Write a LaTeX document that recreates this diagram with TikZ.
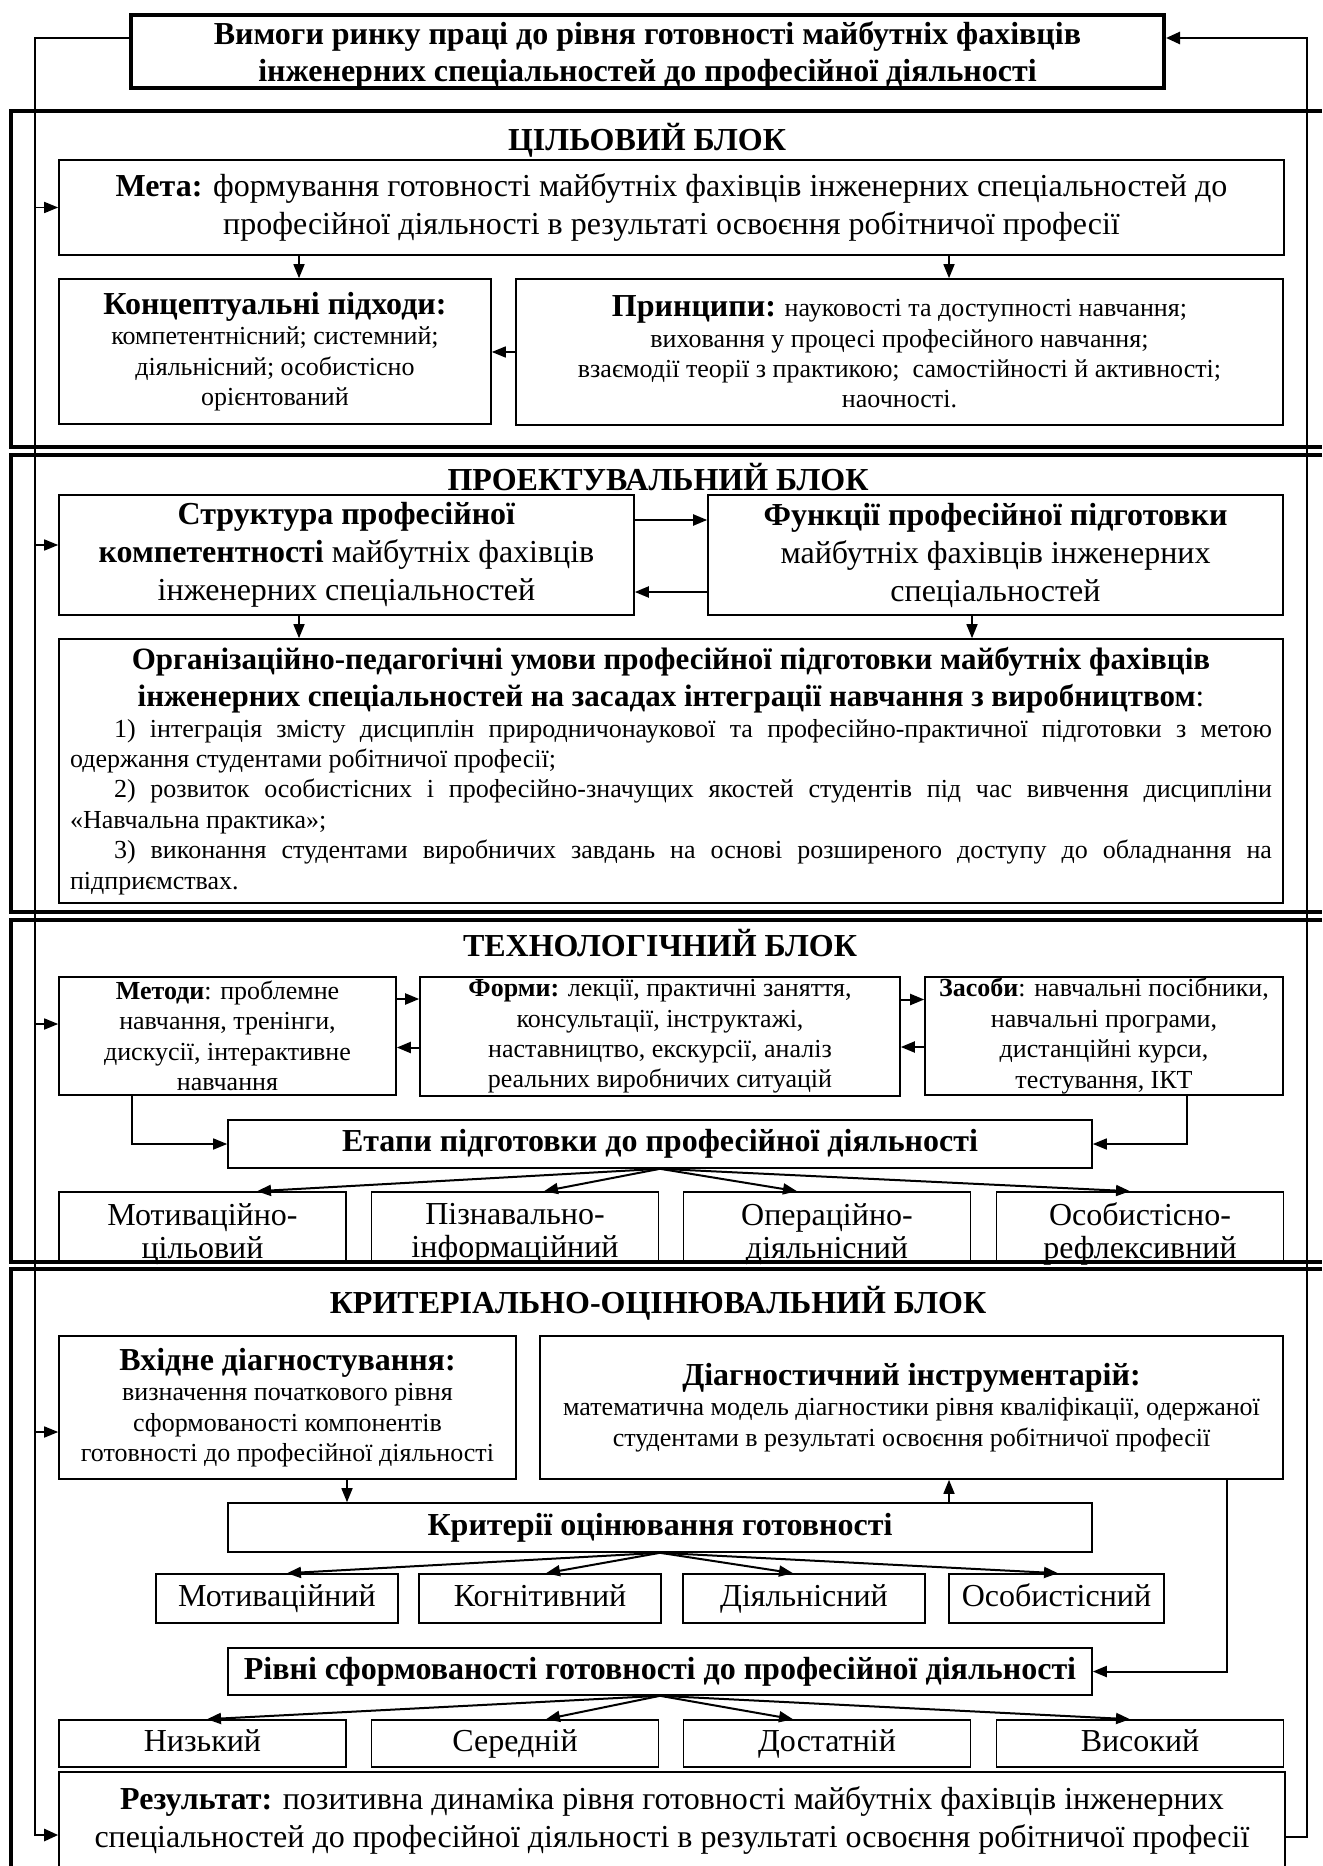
\documentclass[tikz,border=0pt]{standalone}
\usepackage{fontspec}
\setmainfont{Liberation Serif}
\usetikzlibrary{arrows.meta}
\newcommand\fmain{\fontsize{16}{19}\selectfont}
\newcommand\fsmall{\fontsize{13}{15.2}\selectfont}
\newcommand\fbig{\fontsize{16}{16.5}\selectfont}
\newcommand\ftitle{\fontsize{16}{19}\selectfont\bfseries}

\begin{document}
\begin{tikzpicture}[x=0.5pt, y=-0.5pt,
    box/.style={draw, line width=0.8pt, inner sep=2pt, align=center, font=\fmain},
    cell/.style={box, font=\fbig, text height=11.5pt, text depth=3.5pt},
    blockline/.style={line width=1.8pt},
    blocktitle/.style={font=\ftitle},
    fb/.style={line width=1.3pt, -{Triangle[length=7pt,width=6pt]}},
    arr/.style={line width=0.8pt, -{Triangle[length=7pt,width=5.5pt]}}]
    \useasboundingbox (0,0) rectangle (1322,1866) ;
    \draw[blockline] (1322,111) -| (11,447) -- (1322,447) ;
    \draw[blockline] (1322,455) -| (11,912) -- (1322,912) ;
    \draw[blockline] (1322,920) -| (11,1262) -- (1322,1262) ;
    \draw[blockline] (1322,1269) -| (11,1880) ;

    \node [box, line width=2pt, minimum width=516.5pt, minimum height=36.5pt] at (647.5,51.5) (T) {} ;
    \node [font=\fontsize{16}{18.5}\selectfont\bfseries, align=center] at ([yshift=-1.75pt]T.center) (Tt) {Вимоги ринку праці до рівня готовності майбутніх фахівців\\ інженерних спеціальностей до професійної діяльності} ;

    \node [blocktitle] at (647,140) (H1) {ЦІЛЬОВИЙ БЛОК} ;
    \node [box, minimum width=612.5pt, minimum height=47.5pt] at (671.5,207.5) (M) {\textbf{Мета:} формування готовності майбутніх фахівців інженерних спеціальностей до\\ професійної діяльності в результаті освоєння робітничої професії} ;
    \node [box, font=\fsmall, minimum width=216pt, minimum height=72.5pt] at (275,351.5) (P1) {{\fmain\textbf{Концептуальні підходи:}}\\ компетентнісний; системний;\\ діяльнісний; особистісно\\ орієнтований} ;
    \node [box, font=\fsmall, minimum width=383.5pt, minimum height=73pt] at (899.5,352) (P2) {{\fmain\textbf{Принципи:}} науковості та доступності навчання;\\ виховання у процесі професійного навчання;\\ взаємодії теорії з практикою;\ \ самостійності й активності;\\ наочності.} ;

    \node [blocktitle] at (658,477) (H2) {ПРОЕКТУВАЛЬНИЙ БЛОК} ;
    \node [box, minimum width=287.5pt, minimum height=60pt] at (346.5,555) (S) {\textbf{Структура професійної}\\ \textbf{компетентності} майбутніх фахівців\\ інженерних спеціальностей} ;
    \node [box, minimum width=287.5pt, minimum height=60pt] at (995.5,555) (F) {\textbf{Функції професійної підготовки}\\ майбутніх фахівців інженерних\\ спеціальностей} ;
    \node [box, minimum width=612pt, minimum height=132pt, text width=601pt, align=justify] at (671,771) (U) {{\centering\fontsize{15.5}{18.5}\selectfont\bfseries Організаційно-педагогічні умови професійної підготовки майбутніх фахівців\\ інженерних спеціальностей на засадах інтеграції навчання з виробництвом\mdseries:\par}
      \fsmall\parindent=22pt
      1) інтеграція змісту дисциплін природничонаукової та професійно-практичної підготовки з~метою\linebreak одержання студентами робітничої професії;\par
      2) розвиток особистісних і професійно-значущих якостей студентів під час вивчення дисципліни\linebreak «Навчальна практика»;\par
      3) виконання студентами виробничих завдань на основі розширеного доступу до обладнання на\linebreak підприємствах.\par} ;

    \node [blocktitle] at (660,943) (H3) {ТЕХНОЛОГІЧНИЙ БЛОК} ;
    \node [box, font=\fsmall, inner ysep=0pt, minimum width=168.5pt, minimum height=59pt] at (227.5,1036) (Me) {\textbf{Методи}: проблемне\\ навчання, тренінги,\\ дискусії, інтерактивне\\ навчання} ;
    \node [box, font=\fsmall, inner ysep=0pt, minimum width=240pt, minimum height=59.5pt] at (660,1036.5) (Fo) {\textbf{Форми:} лекції, практичні заняття,\\ консультації, інструктажі,\\ наставництво, екскурсії, аналіз\\ реальних виробничих ситуацій} ;
    \node [box, font=\fsmall, inner ysep=0pt, minimum width=179pt, minimum height=59pt] at (1104,1036) (Za) {\textbf{Засоби}: навчальні посібники,\\ навчальні програми,\\ дистанційні курси,\\ тестування, ІКТ} ;
    \node [box, font=\fmain\bfseries, minimum width=432pt, minimum height=24pt] at (660,1144) (E) {Етапи підготовки до професійної діяльності} ;
    \node [box, minimum width=143.5pt, minimum height=35pt] at (202.5,1227) (St1) {} ;
    \node [box, minimum width=143.5pt, minimum height=35pt] at (515,1227) (St2) {} ;
    \node [box, minimum width=143.5pt, minimum height=35pt] at (827,1227) (St3) {} ;
    \node [box, minimum width=143.5pt, minimum height=35pt] at (1140,1227) (St4) {} ;
    \node [font=\fbig, align=center] at ([yshift=-3.5pt]St1.center) (St1t) {Мотиваційно-\\цільовий} ;
    \node [font=\fbig, align=center] at ([yshift=-3.5pt]St2.center) (St2t) {Пізнавально-\\інформаційний} ;
    \node [font=\fbig, align=center] at ([yshift=-3.5pt]St3.center) (St3t) {Операційно-\\діяльнісний} ;
    \node [font=\fbig, align=center] at ([yshift=-3.5pt]St4.center) (St4t) {Особистісно-\\рефлексивний} ;

    \node [blocktitle] at (658,1303) (H4) {КРИТЕРІАЛЬНО-ОЦІНЮВАЛЬНИЙ БЛОК} ;
    \node [box, font=\fsmall, minimum width=228.5pt, minimum height=71.5pt] at (287.5,1407.5) (V) {{\fmain\textbf{Вхідне діагностування:}}\\ визначення початкового рівня\\ сформованості компонентів\\ готовності до професійної діяльності} ;
    \node [box, font=\fsmall, minimum width=371.5pt, minimum height=71.5pt] at (911.5,1407.5) (D) {{\fmain\textbf{Діагностичний інструментарій:}}\\ математична модель діагностики рівня кваліфікації, одержаної\\ студентами в результаті освоєння робітничої професії} ;
    \node [box, font=\fmain\bfseries, minimum width=432pt, minimum height=24.5pt] at (660,1527.5) (K) {Критерії оцінювання готовності} ;
    \node [cell, minimum width=121pt, minimum height=24.5pt] at (277,1598.5) (C1) {Мотиваційний} ;
    \node [cell, minimum width=121pt, minimum height=24.5pt] at (540,1598.5) (C2) {Когнітивний} ;
    \node [cell, minimum width=121pt, minimum height=24.5pt] at (804,1598.5) (C3) {Діяльнісний} ;
    \node [cell, minimum width=107.5pt, minimum height=24.5pt] at (1056.5,1598.5) (C4) {Особистісний} ;
    \node [box, font=\fmain\bfseries, minimum width=432pt, minimum height=23.5pt] at (660,1671.5) (R) {Рівні сформованості готовності до професійної діяльності} ;
    \node [cell, minimum width=143.5pt, minimum height=23.5pt] at (202.5,1743.5) (L1) {Низький} ;
    \node [cell, minimum width=143.5pt, minimum height=23.5pt] at (515,1743.5) (L2) {Середній} ;
    \node [cell, minimum width=143.5pt, minimum height=23.5pt] at (827,1743.5) (L3) {Достатній} ;
    \node [cell, minimum width=143.5pt, minimum height=23.5pt] at (1140,1743.5) (L4) {Високий} ;
    \node [box, minimum width=613pt, minimum height=48pt] at (672,1820) (Res) {\textbf{Результат:} позитивна динаміка рівня готовності майбутніх фахівців інженерних\\ спеціальностей до професійної діяльності в результаті освоєння робітничої професії} ;

    \coordinate (FL) at (35,1835) ;
    \coordinate (FR) at (1307,38) ;
    \draw[fb] ([yshift=6.75pt]T.west) -| (FL) -- (FL -| Res.west) ;
    \draw[fb] ([yshift=-8.5pt]Res.east) -| (FR) -- (FR -| T.east) ;
    \draw[arr] (FL |- M.west) -- (M.west) ;
    \draw[arr] ([yshift=5pt]S.west -| FL) -- ([yshift=5pt]S.west) ;
    \draw[arr] ([yshift=6pt]Me.west -| FL) -- ([yshift=6pt]Me.west) ;
    \draw[arr] ([yshift=-12.25pt]V.west -| FL) -- ([yshift=-12.25pt]V.west) ;

    \draw[arr] ([xshift=12pt]P1.north |- M.south) -- ([xshift=12pt]P1.north) ;
    \draw[arr] ([xshift=24.75pt]P2.north |- M.south) -- ([xshift=24.75pt]P2.north) ;
    \draw[arr] (P2.west) -- (P2.west -| P1.east) ;

    \draw[arr, line width=1pt] ([yshift=17.5pt]S.east) -- ([yshift=17.5pt]F.west) ;
    \draw[arr, line width=1pt] ([yshift=-18.5pt]F.west) -- ([yshift=-18.5pt]S.east) ;
    \draw[arr] ([xshift=-23.75pt]S.south) -- ([xshift=-23.75pt]S.south |- U.north) ;
    \draw[arr] ([xshift=-11.75pt]F.south) -- ([xshift=-11.75pt]F.south |- U.north) ;

    \draw[arr, line width=1pt] ([yshift=18.5pt]Me.east) -- ([yshift=18.5pt]Me.east -| Fo.west) ;
    \draw[arr, line width=1pt] ([yshift=18.5pt]Fo.east) -- ([yshift=18.5pt]Fo.east -| Za.west) ;
    \draw[arr, line width=1pt] ([yshift=-5.5pt]Fo.west) -- ([yshift=-5.5pt]Fo.west -| Me.east) ;
    \draw[arr, line width=1pt] ([yshift=-5.5pt]Za.west) -- ([yshift=-5.5pt]Za.west -| Fo.east) ;
    \draw[arr] ([xshift=-47.75pt]Me.south) |- (E.west) ;
    \draw[arr] ([xshift=41.5pt]Za.south) |- (E.east) ;
    \draw[arr, line width=1pt] (E.south) -- ([xshift=27.25pt]St1.north) ;
    \draw[arr, line width=1pt] (E.south) -- ([xshift=14.5pt]St2.north) ;
    \draw[arr, line width=1pt] (E.south) -- ([xshift=-15pt]St3.north) ;
    \draw[arr, line width=1pt] (E.south) -- ([xshift=-5pt]St4.north) ;

    \draw[arr] ([xshift=29.75pt]V.south) -- ([xshift=29.75pt]V.south |- K.north) ;
    \draw[arr] ([xshift=18.75pt]D.south |- K.north) -- ([xshift=18.75pt]D.south) ;
    \draw[arr, line width=1pt] ([xshift=157.75pt]D.south) |- (R.east) ;
    \draw[arr, line width=1pt] (K.south) -- ([xshift=5pt]C1.north) ;
    \draw[arr, line width=1pt] (K.south) -- ([xshift=3pt]C2.north) ;
    \draw[arr, line width=1pt] (K.south) -- ([xshift=-5.5pt]C3.north) ;
    \draw[arr, line width=1pt] (K.south) -- ([xshift=0.75pt]C4.north) ;
    \draw[arr, line width=1pt] (R.south) -- ([xshift=2.25pt]L1.north) ;
    \draw[arr, line width=1pt] (R.south) -- ([xshift=15.5pt]L2.north) ;
    \draw[arr, line width=1pt] (R.south) -- ([xshift=-17pt]L3.north) ;
    \draw[arr, line width=1pt] (R.south) -- ([xshift=-5pt]L4.north) ;
  \end{tikzpicture}
\end{document}
